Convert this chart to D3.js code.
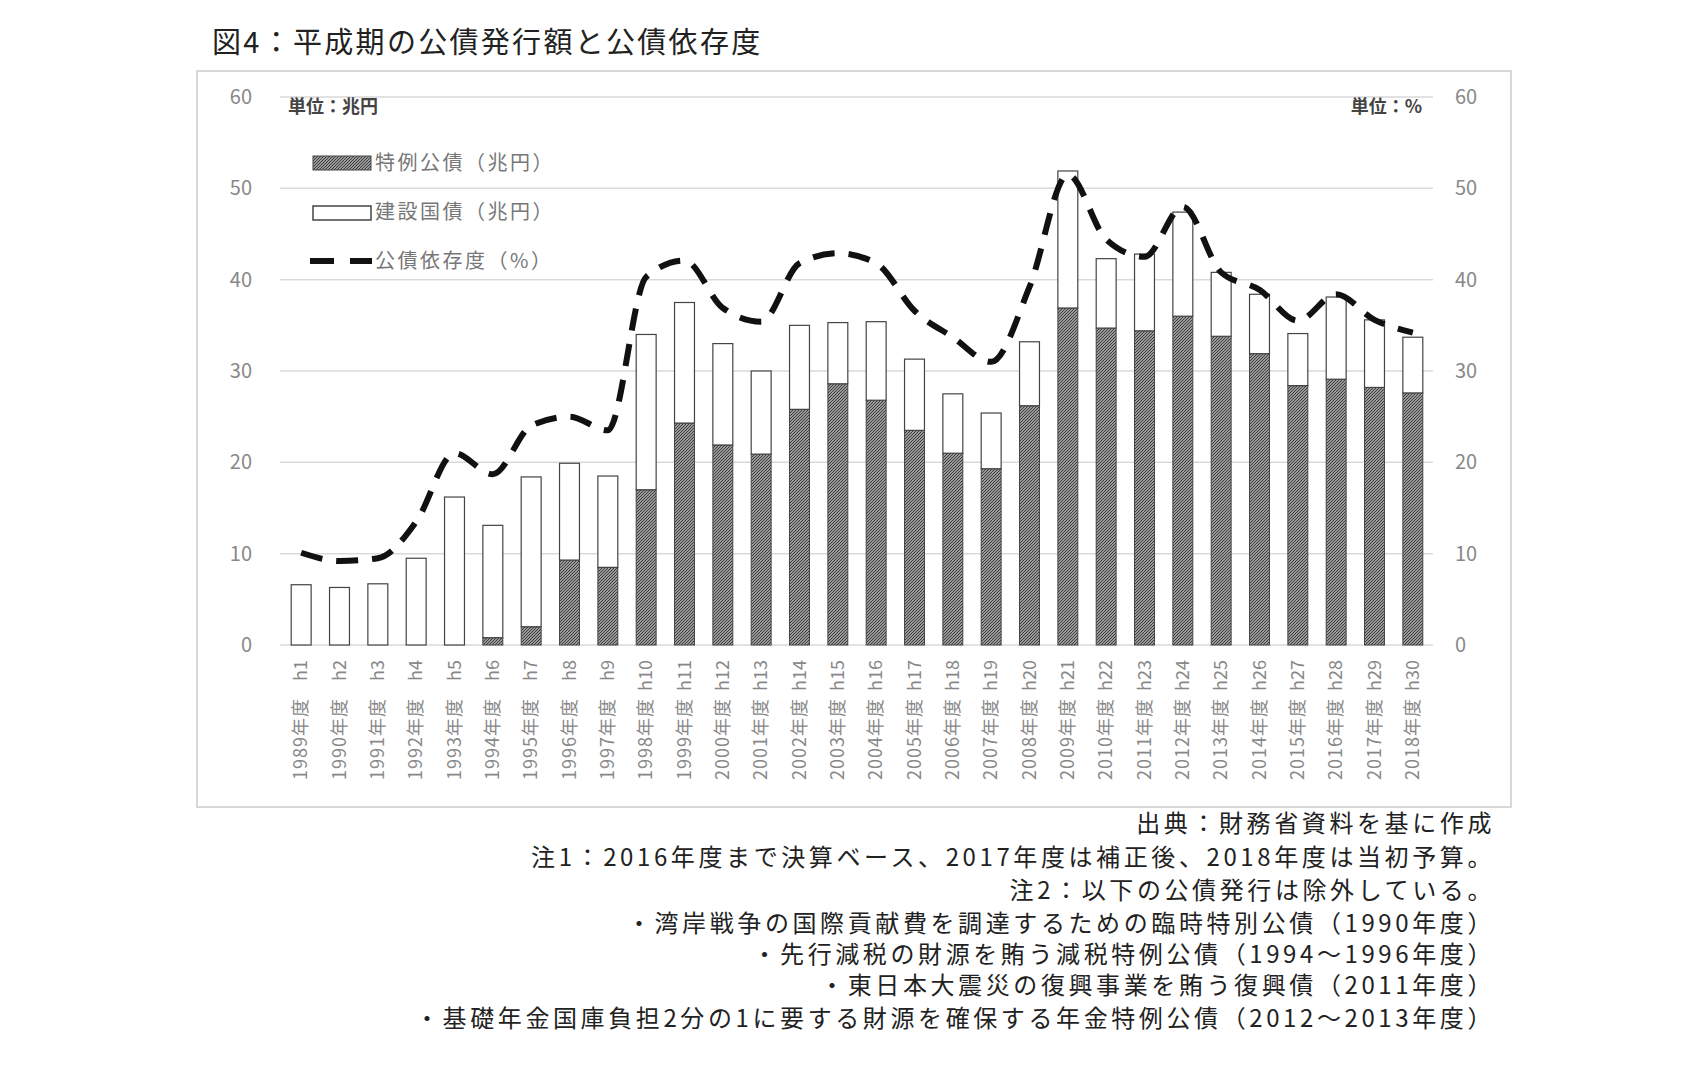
<!DOCTYPE html><html><head><meta charset="utf-8"><script src="https://cdn.jsdelivr.net/npm/d3@7"></script>
<style>body{margin:0;background:#fff}text{font-family:"Noto Sans CJK JP","Noto Sans",sans-serif}</style></head><body><svg id="c" width="1696" height="1071"></svg><script>
const heisei=["h1","h2","h3","h4","h5","h6","h7","h8","h9","h10","h11","h12","h13","h14","h15","h16","h17","h18","h19","h20","h21","h22","h23","h24","h25","h26","h27","h28","h29","h30"];
const years=heisei.map((d,i)=>(1989+i)+"年度");
const special=[0,0,0,0,0,0.8,2.0,9.3,8.5,17.0,24.3,21.9,20.9,25.8,28.6,26.8,23.5,21.0,19.3,26.2,36.9,34.7,34.4,36.0,33.8,31.9,28.4,29.1,28.2,27.6];
const construction=[6.6,6.3,6.7,9.5,16.2,12.3,16.4,10.6,10.0,17.0,13.2,11.1,9.1,9.2,6.7,8.6,7.8,6.5,6.1,7.0,15.0,7.6,8.4,11.4,7.0,6.5,5.7,9.0,7.4,6.1];
const dependency=[10.1,9.2,9.5,13.5,21.0,18.7,24.0,25.0,23.5,40.3,42.1,36.9,35.4,41.8,42.9,41.8,36.6,33.7,31.0,39.2,51.5,44.4,42.5,48.0,40.8,38.9,35.5,38.4,35.6,34.2];
const ticks=[0,10,20,30,40,50,60];
const notes=["出典：財務省資料を基に作成","注1：2016年度まで決算ベース、2017年度は補正後、2018年度は当初予算。","注2：以下の公債発行は除外している。","・湾岸戦争の国際貢献費を調達するための臨時特別公債（1990年度）","・先行減税の財源を賄う減税特例公債（1994～1996年度）","・東日本大震災の復興事業を賄う復興債（2011年度）","・基礎年金国庫負担2分の1に要する財源を確保する年金特例公債（2012～2013年度）"];
const svg=d3.select("#c");
const defs=svg.append("defs");
const p=defs.append("pattern").attr("id","h").attr("width",3).attr("height",3).attr("patternUnits","userSpaceOnUse");
p.append("rect").attr("width",3).attr("height",3).attr("fill","#999");
p.append("path").attr("d","M0,3L3,0M-1,1L1,-1M2,4L4,2").attr("stroke","#333").attr("stroke-width",0.9);
svg.append("text").attr("x",212).attr("y",53).attr("font-size",29).attr("letter-spacing",2.3).attr("fill","#222").text("図4：平成期の公債発行額と公債依存度");
svg.append("rect").attr("x",197).attr("y",71).attr("width",1314).attr("height",736).attr("fill","none").attr("stroke","#d8d8d8").attr("stroke-width",2);
const y=d3.scaleLinear().domain([0,60]).range([645,97]);
const x=d3.scaleBand().domain(heisei).range([282,1432]).paddingInner(0.48).paddingOuter(0.24);
ticks.forEach(t=>{svg.append("line").attr("x1",280).attr("x2",1433).attr("y1",y(t)).attr("y2",y(t)).attr("stroke","#d9d9d9").attr("stroke-width",1.5);});
svg.append("g").selectAll("text").data(ticks).join("text").attr("x",252).attr("y",d=>y(d)+7).attr("text-anchor","end").attr("font-size",20).attr("fill","#888").text(d=>d);
svg.append("g").selectAll("text").data(ticks).join("text").attr("x",1455).attr("y",d=>y(d)+7).attr("font-size",20).attr("fill","#888").text(d=>d);
const bw=x.bandwidth();
heisei.forEach((h,i)=>{
 if(special[i]>0) svg.append("rect").attr("x",x(h)).attr("y",y(special[i])).attr("width",bw).attr("height",y(0)-y(special[i])).attr("fill","url(#h)").attr("stroke","#444").attr("stroke-width",1);
 svg.append("rect").attr("x",x(h)).attr("y",y(special[i]+construction[i])).attr("width",bw).attr("height",y(special[i])-y(special[i]+construction[i])).attr("fill","#fff").attr("stroke","#444").attr("stroke-width",1.2);
 const cx=x(h)+bw/2;
 svg.append("text").attr("transform",`translate(${cx+6},660) rotate(-90)`).attr("text-anchor","end").attr("font-size",18).attr("fill","#888").text(h);
 svg.append("text").attr("transform",`translate(${cx+6},698) rotate(-90)`).attr("text-anchor","end").attr("font-size",18).attr("letter-spacing",1).attr("fill","#888").text(years[i]);
});
const line=d3.line().x((d,i)=>x(heisei[i])+bw/2).y(d=>y(d)).curve(d3.curveMonotoneX);
svg.append("path").datum(dependency).attr("d",line).attr("fill","none").attr("stroke","#111").attr("stroke-width",6).attr("stroke-dasharray","22,14");
svg.append("text").attr("x",288).attr("y",113).attr("font-size",18).attr("font-weight","bold").attr("fill","#444").text("単位：兆円");
svg.append("text").attr("x",1422).attr("y",113).attr("text-anchor","end").attr("font-size",18).attr("font-weight","bold").attr("fill","#444").text("単位：%");
const lg=[{t:"特例公債（兆円）",y:163},{t:"建設国債（兆円）",y:212},{t:"公債依存度（%）",y:261}];
svg.append("rect").attr("x",313).attr("y",156).attr("width",58).attr("height",14).attr("fill","url(#h)").attr("stroke","#444");
svg.append("rect").attr("x",313).attr("y",206).attr("width",58).attr("height",14).attr("fill","#fff").attr("stroke","#444").attr("stroke-width",1.5);
svg.append("line").attr("x1",310).attr("x2",372).attr("y1",261).attr("y2",261).attr("stroke","#111").attr("stroke-width",6).attr("stroke-dasharray","24,16");
lg.forEach(l=>svg.append("text").attr("x",375).attr("y",l.y+7).attr("font-size",20).attr("letter-spacing",2.5).attr("fill","#777").text(l.t));
const ny=[832,866,899,932,963,994,1027];
notes.forEach((n,i)=>svg.append("text").attr("x",1495).attr("y",ny[i]).attr("text-anchor","end").attr("font-size",24).attr("letter-spacing",3.6).attr("fill","#222").text(n));
</script></body></html>
